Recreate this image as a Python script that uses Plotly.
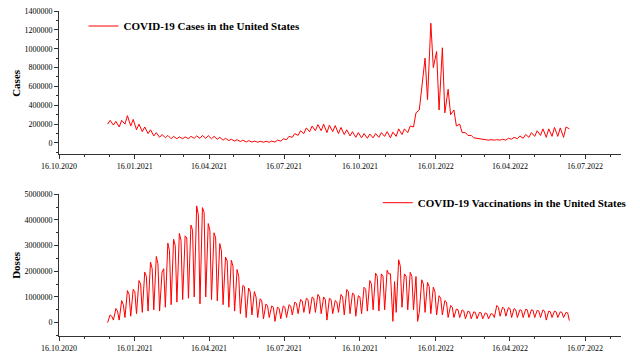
import pandas as pd
import plotly.graph_objects as go

# Weekly readings (week starting Monday)
week_start = "2020-12-14"
n_weeks = 80

# COVID-19 cases (thousands): value on Monday and Thursday of each week
cases_mon = [200, 190, 170, 200, 180, 140, 120, 100, 75, 60,
             55, 45, 45, 45, 45, 50, 50, 50, 45, 40,
             30, 25, 20, 15, 10, 10, 8, 8, 8, 10,
             20, 35, 60, 80, 100, 120, 130, 130, 110, 120,
             100, 90, 75, 60, 55, 50, 55, 60, 70, 55,
             70, 90, 110, 170, 350, 900, 1270, 970, 1010, 570,
             350, 200, 110, 80, 50, 40, 30, 30, 30, 30,
             40, 45, 50, 60, 70, 80, 60, 70, 70, 60,
             150]
cases_thu = [240, 230, 240, 290, 250, 200, 170, 140, 110, 90,
             80, 70, 65, 65, 70, 75, 80, 78, 70, 60,
             50, 40, 35, 30, 25, 20, 18, 18, 20, 30,
             45, 70, 100, 130, 160, 180, 195, 200, 190, 185,
             165, 140, 120, 110, 100, 95, 100, 110, 120, 115,
             150, 150, 180, 320, 600, 460, 800, 350, 320, 300,
             180, 110, 80, 55, 45, 40, 35, 35, 40, 50,
             60, 75, 90, 110, 130, 150, 150, 165, 160, 170]

# COVID-19 vaccination doses (millions): Monday, Thursday and Saturday of each week
doses_mon = [0.0, 0.1, 0.1, 0.2, 0.25, 0.35, 0.4, 0.45, 0.5, 0.45,
             0.6, 0.7, 0.8, 0.9, 0.95, 1.0, 0.73, 1.0, 0.9, 0.85,
             0.7, 0.6, 0.45, 0.35, 0.2, 0.3, 0.2, 0.15, 0.2, 0.05,
             0.15, 0.2, 0.3, 0.35, 0.4, 0.35, 0.4, 0.35, 0.1, 0.35,
             0.4, 0.3, 0.35, 0.25, 0.35, 0.45, 0.5, 0.45, 0.5, 1.9,
             0.4, 0.6, 0.5, 0.5, 0.4, 0.4, 0.35, 0.3, 0.3, 0.2,
             0.2, 0.2, 0.15, 0.15, 0.15, 0.15, 0.15, 0.2, 0.25, 0.25,
             0.2, 0.2, 0.2, 0.2, 0.2, 0.2, 0.1, 0.2, 0.2, 0.2,
             0.08]
doses_thu = [0.3, 0.55, 0.86, 1.25, 1.3, 1.64, 1.97, 2.36, 2.58, 1.97,
             3.1, 3.25, 3.48, 3.38, 3.8, 4.55, 4.48, 3.86, 3.5, 3.08,
             2.56, 2.43, 2.07, 1.45, 1.35, 1.21, 0.93, 0.73, 0.65, 0.6,
             0.65, 0.7, 0.8, 0.9, 0.95, 1.0, 1.1, 1.0, 0.95, 0.86,
             1.1, 1.29, 1.15, 1.05, 1.38, 1.64, 1.93, 1.9, 2.04, 0.05,
             2.45, 1.9, 1.96, 1.8, 1.67, 1.57, 1.38, 1.05, 0.86, 0.67,
             0.53, 0.5, 0.45, 0.42, 0.4, 0.38, 0.35, 0.67, 0.6, 0.58,
             0.55, 0.5, 0.52, 0.5, 0.48, 0.5, 0.45, 0.45, 0.42, 0.4]
doses_sat = [0.25, 0.45, 0.7, 1.1, 1.2, 1.5, 1.8, 2.1, 2.3, 2.1,
             2.8, 3.0, 3.2, 3.3, 3.6, 4.2, 4.3, 3.6, 3.3, 2.8,
             2.4, 2.2, 1.8, 1.4, 1.2, 1.0, 0.85, 0.65, 0.6, 0.55,
             0.6, 0.65, 0.75, 0.85, 0.9, 0.95, 1.0, 0.9, 0.9, 0.8,
             1.0, 1.2, 1.1, 1.0, 1.3, 1.5, 1.8, 1.8, 1.9, 1.6,
             2.2, 1.8, 1.8, 0.05, 1.5, 1.4, 1.2, 0.95, 0.8, 0.6,
             0.5, 0.45, 0.42, 0.4, 0.38, 0.35, 0.33, 0.6, 0.55, 0.55,
             0.5, 0.48, 0.5, 0.48, 0.45, 0.45, 0.42, 0.42, 0.4, 0.38]

mondays = pd.date_range(week_start, periods=n_weeks + 1, freq="7D")
day = pd.Timedelta(days=1)

case_dates, cases = [], []
dose_dates, doses = [], []
for i in range(n_weeks):
    case_dates += [mondays[i], mondays[i] + 3 * day]
    cases += [cases_mon[i] * 1000, cases_thu[i] * 1000]
    dose_dates += [mondays[i], mondays[i] + 3 * day, mondays[i] + 5 * day]
    doses += [doses_mon[i] * 1e6, doses_thu[i] * 1e6, doses_sat[i] * 1e6]
case_dates.append(mondays[n_weeks])
cases.append(cases_mon[n_weeks] * 1000)
dose_dates.append(mondays[n_weeks])
doses.append(doses_mon[n_weeks] * 1e6)

RED = "#ff0000"
SERIF = "Liberation Serif"

fig = go.Figure()
fig.add_trace(go.Scatter(x=case_dates, y=cases, mode="lines", line=dict(color=RED, width=1),
                         name="COVID-19 Cases in the United States",
                         xaxis="x", yaxis="y", legend="legend"))
fig.add_trace(go.Scatter(x=dose_dates, y=doses, mode="lines", line=dict(color=RED, width=1),
                         name="COVID-19 Vaccinations in the United States",
                         xaxis="x2", yaxis="y2", legend="legend2"))

L, R, T, B = 59, 8, 11, 18
W, H = 640, 354
pw, ph = W - L - R, H - T - B


def fy(py):
    return (H - B - py) / ph


def fx(px):
    return (px - L) / pw


tickfont = dict(family=SERIF, size=8, color="black")
xcommon = dict(type="date", range=["2020-10-16", "2022-08-28 16:00"],
               tick0="2020-10-16", dtick="M3", tickformat="%d.%m.%Y",
               ticks="outside", ticklen=4, tickcolor="#333", showline=True,
               linecolor="#333", linewidth=1, showgrid=False, zeroline=False,
               tickfont=tickfont, automargin=False,
               minor=dict(tick0="2020-10-16", dtick="M1", ticks="outside",
                          ticklen=2, tickcolor="#333", showgrid=False))
ycommon = dict(ticks="outside", ticklen=4, tickcolor="#333", showline=True,
               linecolor="#333", linewidth=1, showgrid=False, zeroline=False,
               tickfont=tickfont, tickformat="d", automargin=False)

legfont = dict(family=SERIF, size=11, color="black", weight="bold")

fig.update_layout(
    width=W, height=H, margin=dict(l=L, r=R, t=T, b=B),
    paper_bgcolor="white", plot_bgcolor="white",
    xaxis=dict(anchor="y", **xcommon),
    xaxis2=dict(anchor="y2", **xcommon),
    yaxis=dict(anchor="x", domain=[fy(154.3), 1.0], range=[-120000, 1400000],
               tick0=0, dtick=200000,
               minor=dict(dtick=100000, ticks="outside", ticklen=2, tickcolor="#333"),
               **ycommon),
    yaxis2=dict(anchor="x2", domain=[0.0, fy(194.3)], range=[-520000, 5000000],
                tick0=0, dtick=1000000,
                minor=dict(dtick=500000, ticks="outside", ticklen=2, tickcolor="#333"),
                **ycommon),
    legend=dict(x=fx(84), y=fy(26), xanchor="left", yanchor="middle",
                font=legfont, bgcolor="rgba(0,0,0,0)", borderwidth=0),
    legend2=dict(x=fx(384), y=fy(202.7), xanchor="left", yanchor="middle",
                 font=legfont, bgcolor="rgba(0,0,0,0)", borderwidth=0),
    showlegend=True,
    annotations=[
        dict(text="Cases", x=fx(15), y=fy(83), xref="paper", yref="paper",
             textangle=-90, showarrow=False, xanchor="center", yanchor="middle",
             font=dict(family=SERIF, size=11, color="black", weight="bold")),
        dict(text="Doses", x=fx(15), y=fy(265), xref="paper", yref="paper",
             textangle=-90, showarrow=False, xanchor="center", yanchor="middle",
             font=dict(family=SERIF, size=11, color="black", weight="bold")),
    ],
)

fig.write_html("out.html")
